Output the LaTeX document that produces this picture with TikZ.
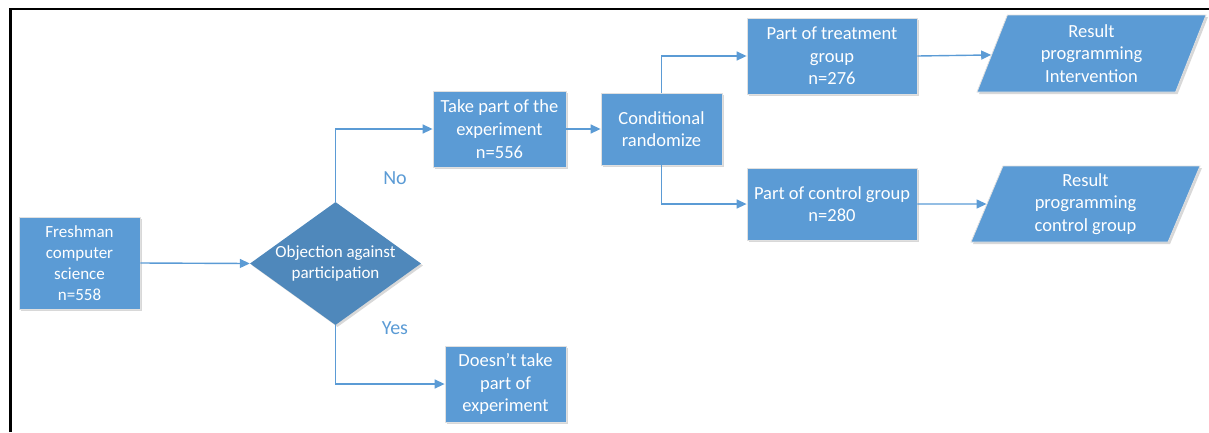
\documentclass[tikz,border=0pt]{standalone}
\usepackage{fontspec}
\setmainfont{Carlito}
\usetikzlibrary{arrows.meta,shapes.geometric,shadows}
\definecolor{boxblue}{HTML}{5B9BD5}
\definecolor{diablue}{HTML}{4F88BB}
\begin{document}
\begin{tikzpicture}[x=1pt,y=-1pt,
  every node/.style={font=\fontsize{18.5}{22.7}\selectfont},
  small/.style={font=\fontsize{17}{21}\selectfont},
  shad/.style={drop shadow={shadow xshift=2pt,shadow yshift=-2pt,fill=black!30,opacity=0.5}},
  bluebox/.style={rectangle,fill=boxblue,draw=black!12,line width=0.8pt,text=white,align=center,inner sep=0pt,shad},
  para/.style={trapezium,trapezium left angle=62.5,trapezium right angle=117.5,trapezium stretches body,fill=boxblue,draw=black!12,line width=0.8pt,text=white,align=center,inner sep=0pt,shad},
  conn/.style={draw=boxblue,line width=1.4pt,-{Triangle[length=10pt,width=9pt]}},
  lbl/.style={text=boxblue,font=\fontsize{20}{24}\selectfont}]
\useasboundingbox (0,0) rectangle (1209,432);
\draw[line width=2.5pt] (10.5,432) -- (10.5,9) -- (1209,9);

\node[bluebox,small,minimum width=121,minimum height=92] (fr) at (79.5,263) {Freshman\\computer\\science\\n=558};
\node[diamond,fill=diablue,inner sep=0pt,minimum width=171,minimum height=123,shad,
  label={[text=white,align=center,small]center:Objection against\\participation}] (obj) at (335.5,263.5) {};
\node[bluebox,minimum width=133,minimum height=76] (take) at (499.5,129) {Take part of the\\experiment\\n=556};
\node[bluebox,minimum width=121,minimum height=76] (not) at (505.5,384) {Doesn’t take\\part of\\experiment};
\node[bluebox,minimum width=121,minimum height=72] (cond) at (661.5,129) {Conditional\\randomize};
\node[bluebox,minimum width=170,minimum height=76] (treat) at (832,56) {Part of treatment\\group\\n=276};
\node[bluebox,minimum width=170,minimum height=72] (ctrl) at (832,204) {Part of control group\\n=280};
\node[para,minimum width=229,minimum height=77] (r1) at (1091.5,53.5) {Result\\programming\\Intervention};
\node[para,minimum width=229,minimum height=76] (r2) at (1085.5,204) {Result\\programming\\control group};

\node[lbl] (no) at (395,178) {No};
\node[lbl] (yes) at (395,328) {Yes};

\draw[conn] (fr.east) -- (obj.west);
\draw[conn] (obj.north) |- (take.west);
\draw[conn] (obj.south) |- (not.west);
\draw[conn] (take.east) -- (cond.west);
\draw[conn] (cond.north) |- (treat.west);
\draw[conn] (cond.south) |- (ctrl.west);
\draw[conn] (treat.east) -- (r1);
\draw[conn] (ctrl.east) -- (r2);
\end{tikzpicture}
\end{document}
